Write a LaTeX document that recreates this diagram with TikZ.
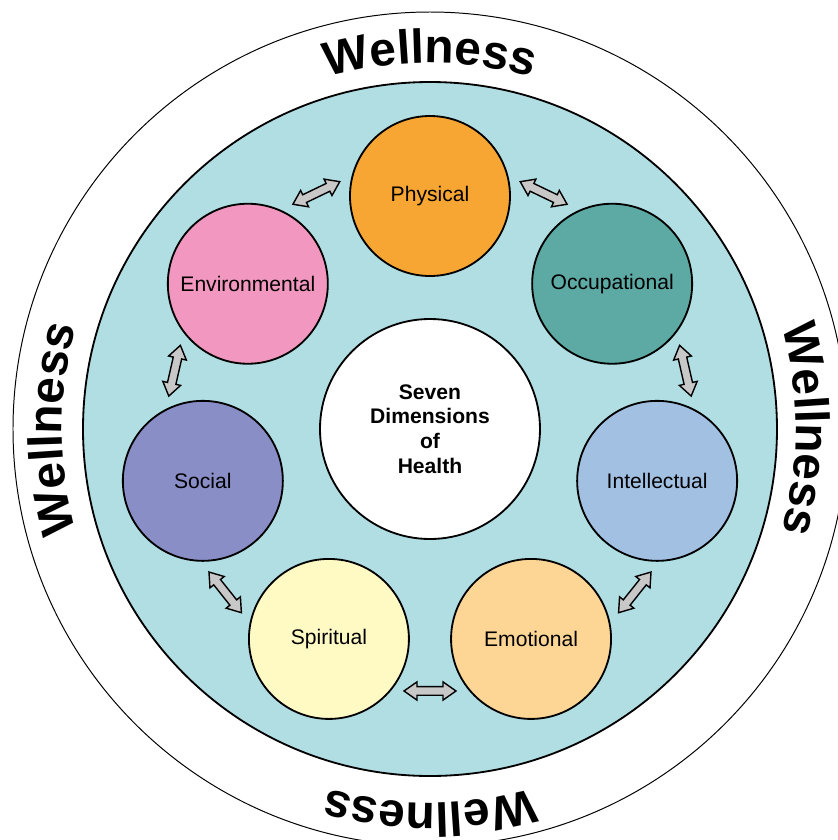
\documentclass[tikz,border=0pt]{standalone}
\usepackage{fontspec}
\setmainfont{Liberation Sans}
\usepackage{xcolor}
\usepackage{tikz}
\definecolor{wlteal}{HTML}{B0DEE3}
\definecolor{wlorange}{HTML}{F7A634}
\definecolor{wlgreen}{HTML}{5DA9A4}
\definecolor{wlblue}{HTML}{A1C0E2}
\definecolor{wlpeach}{HTML}{FDD696}
\definecolor{wlyellow}{HTML}{FFF9C4}
\definecolor{wlpurple}{HTML}{898EC6}
\definecolor{wlpink}{HTML}{F298C0}
\definecolor{wlgray}{HTML}{C8C8C8}
\usetikzlibrary{shapes.arrows, positioning, calc, decorations.text}
\newcommand{\wellfont}{\fontsize{34}{34}\selectfont\bfseries}

\begin{document}
\begin{tikzpicture}[
  dim/.style={circle, draw, line width=1.3pt, minimum size=4cm, inner sep=0pt, font=\fontsize{15}{17.5}\selectfont},
  dblarrow/.style={double arrow, draw, fill=wlgray, line width=1pt, minimum height=1.3cm, minimum width=0.42cm, inner sep=0.09cm, double arrow head extend=0.12cm, double arrow tip angle=70}
]
\useasboundingbox (-10.75,-10.275) rectangle (10.2,10.725);

% Outer ring and inner disc
\node[circle, draw, line width=0.7pt, minimum size=20.85cm, inner sep=0pt] (ring) at (0,0) {};
\node[circle, draw, fill=wlteal, line width=1.3pt, minimum size=17.35cm, inner sep=0pt] (disc) at (0,0) {};

% Wellness along the ring
\foreach \t/\r in {90/9.15,0/9.15,-90/9.35,180/9.2}
  \path[postaction={decorate, decoration={text along path, text align=center, text={|\wellfont|Wellness}}}]
    (\t+35:\r) arc[start angle=\t+35, end angle=\t-35, radius=\r];

% Centre of the diagram
\node[circle, draw, fill=white, line width=1.3pt, minimum size=5.5cm, inner sep=0pt, align=center, font=\fontsize{15}{17.5}\selectfont\bfseries] (hub) at (0,0) {Seven\\Dimensions\\of\\Health};

% The seven dimensions, clockwise from the top
\node[dim, fill=wlorange] (phys) at (90:5.825) {Physical};
\node[dim, fill=wlgreen] (occ) at (38.57:5.825) {Occupational};
\node[dim, fill=wlblue] (intel) at (-12.86:5.825) {Intellectual};
\node[dim, fill=wlpeach] (emo) at (-64.29:5.825) {Emotional};
\node[dim, fill=wlyellow] (spir) at (-115.71:5.825) {Spiritual};
\node[dim, fill=wlpurple] (soc) at (-167.14:5.825) {Social};
\node[dim, fill=wlpink] (env) at (141.43:5.825) {Environmental};

% Two-way arrows between neighbours
\foreach \a/\b [count=\i] in {phys/occ,occ/intel,intel/emo,emo/spir,spir/soc,soc/env,env/phys} {
  \pgfmathsetmacro\ang{90-(\i-0.5)*360/7}
  \coordinate (mid\i) at ($(\a)!0.5!(\b)$);
  \node[dblarrow, rotate=\ang-90] (arr\i) at ($(hub)!1.248!(mid\i)$) {};
}
\end{tikzpicture}
\end{document}
